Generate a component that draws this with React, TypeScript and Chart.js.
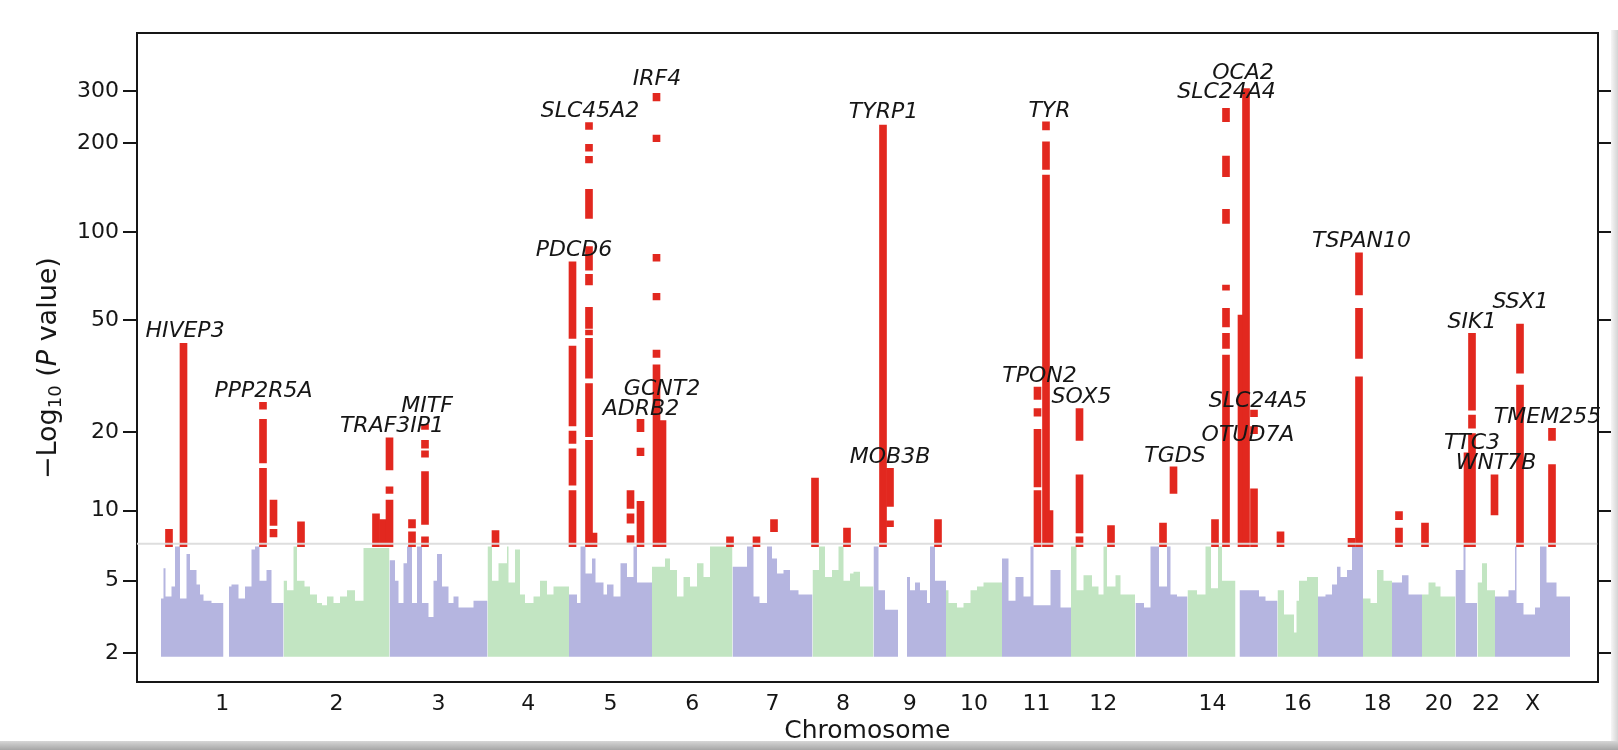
import React, { useEffect, useRef } from "react";
import { Chart, registerables } from "chart.js";

Chart.register(...registerables);

// ---------------- DATA ----------------
const chromNames = ["1","2","3","4","5","6","7","8","9","10","11","12","13","14","15","16","17","18","19","20","21","22","X"];
// relative span of each chromosome along the genome axis (approx. Mb)
const chromSpans = [245,212,196,163,166,161,160,122,145,112,138,129,104,100,80,81,90,58,60,67,43,36,150];
const chromLabelsShown = ["1","2","3","4","5","6","7","8","9","10","11","12","14","16","18","20","22","X"];
const yTickValues = [2,5,10,20,50,100,200,300];
const SIG_LINE = 7.3;
const Y_BOTTOM_VALUE = 1.22;
const Y_TOP_VALUE = 472;
const BASE_VALUE = 1.9;

// upper envelope of the non-significant SNPs: [position within chromosome, -log10 P]
const sky1 = [[0,3.4],[5,4.1],[9,5.7],[21,4.2],[28,4.7],[38,7.1],[51,4.1],[58,6.6],[71,5.6],[78,4.8],[85,4.3],[101,4.0],[110,3.9],[125,3.9],[125,null],[136,5.0],[141,4.7],[155,4.8],[168,4.1],[181,4.7],[188,6.9],[197,7.1],[211,5.0],[221,5.6],[235,3.9],[245,3.9]];
const sky2 = [[0,4.0],[7,5.0],[20,4.5],[27,7.1],[42,5.0],[53,4.7],[67,4.3],[77,3.9],[87,3.8],[100,4.2],[113,3.9],[127,4.2],[143,4.5],[160,4.0],[172,7.0],[212,7.0]];
const sky3 = [[0,7.0],[11,6.2],[18,5.0],[28,3.9],[35,6.0],[45,7.1],[55,3.9],[65,7.1],[78,3.9],[88,3.3],[95,5.0],[105,6.6],[118,4.7],[128,3.9],[138,4.2],[168,3.7],[181,4.0],[196,4.0]];
const sky4 = [[0,5.0],[9,7.1],[22,5.0],[39,6.0],[42,7.1],[55,4.9],[65,6.9],[75,4.3],[92,3.9],[105,4.2],[119,5.0],[132,4.3],[149,4.7],[163,4.7]];
const sky5 = [[0,7.1],[16,4.3],[23,3.9],[33,7.1],[46,5.4],[53,6.3],[69,4.9],[76,4.3],[89,4.8],[103,4.2],[116,6.0],[129,5.2],[136,7.1],[153,4.9],[166,4.9]];
const sky6 = [[0,7.1],[26,5.8],[36,6.3],[50,5.6],[63,4.2],[76,5.2],[90,4.7],[103,6.0],[116,5.2],[146,7.1],[161,7.1]];
const sky7 = [[0,4.9],[29,5.8],[42,7.1],[54,4.2],[69,3.9],[79,7.1],[89,6.3],[102,5.4],[115,5.6],[132,4.5],[145,4.3],[160,4.3]];
const sky8 = [[0,7.1],[13,5.6],[25,7.1],[39,5.2],[52,5.6],[62,7.1],[75,5.0],[82,5.4],[95,5.5],[112,4.7],[122,4.7]];
const sky9 = [[0,4.5],[10,7.1],[23,4.5],[33,3.6],[49,3.6],[49,null],[67,4.7],[73,5.2],[83,4.5],[93,4.9],[107,4.5],[113,3.9],[123,7.1],[137,5.0],[145,5.0]];
const sky10 = [[0,5.0],[5,4.5],[22,3.9],[35,3.7],[49,3.9],[62,4.5],[75,4.7],[95,4.9],[112,4.9]];
const sky11 = [[0,4.5],[13,6.3],[27,4.0],[43,5.2],[57,4.2],[63,7.1],[97,3.8],[117,5.6],[130,3.7],[138,3.7]];
const sky12 = [[0,6.3],[11,7.1],[25,4.5],[42,5.3],[55,4.7],[65,4.3],[72,7.1],[89,4.7],[99,5.3],[109,4.3],[128,4.3]];
const sky13 = [[0,3.9],[17,3.9],[30,3.7],[47,7.1],[63,4.7],[70,7.1],[83,4.3],[97,4.2],[104,4.2]];
const sky14 = [[0,4.7],[19,4.5],[36,4.3],[47,7.1],[61,4.6],[69,7.1],[83,5.0],[96,5.0]];
const sky15 = [[4,7.1],[43,4.5],[56,4.2],[79,4.0],[80,4.0]];
const sky16 = [[0,6.6],[13,4.5],[33,3.4],[38,2.7],[43,4.0],[59,5.0],[73,5.2],[81,5.2]];
const sky17 = [[0,6.9],[15,4.2],[28,4.3],[38,4.8],[45,5.8],[58,5.2],[68,5.6],[75,7.1],[90,7.1]];
const sky18 = [[0,3.9],[15,4.1],[28,3.9],[41,5.6],[51,5.0],[58,5.0]];
const sky19 = [[0,7.1],[20,4.9],[33,5.3],[50,4.3],[60,4.3]];
const sky20 = [[0,7.1],[13,4.3],[27,4.9],[37,4.7],[50,4.2],[67,4.2]];
const sky21 = [[0,4.7],[16,5.6],[20,7.1],[39,3.9],[43,3.9]];
const sky22 = [[1,3.8],[10,4.9],[20,6.0],[32,4.5],[36,4.5]];
const skyX = [[0,3.9],[27,4.2],[40,4.5],[43,7.1],[57,3.9],[80,3.4],[90,3.7],[103,7.1],[123,4.9],[133,4.2],[150,4.2]];
const skylines = [sky1,sky2,sky3,sky4,sky5,sky6,sky7,sky8,sky9,sky10,sky11,sky12,sky13,sky14,sky15,sky16,sky17,sky18,sky19,sky20,sky21,sky22,skyX];

// genome-wide significant SNP columns: [chromosome, position, low -log10 P, high -log10 P]
const sigColumns: [string, number, number, number][] = [
  ["1",16,7.1,8.4],
  ["1",45,7.1,41.4],
  ["1",204,24.2,25.6],["1",204,15.3,22.2],["1",204,7.1,14.6],
  ["1",225,8.7,11.0],["1",225,7.8,8.4],
  ["2",35,7.1,9.0],
  ["2",185,7.1,9.7],
  ["2",199,7.1,9.2],
  ["2",212,14.4,19.0],["2",212,11.7,12.4],["2",212,7.1,11.0],
  ["3",45,8.5,9.2],["3",45,7.1,8.2],
  ["3",71,20.4,21.3],["3",71,17.4,18.6],["3",71,16.1,17.0],["3",71,8.8,14.2],["3",71,7.1,7.8],
  ["4",16,7.1,8.3],
  ["5",7,43.1,79.3],["5",7,21.0,40.5],["5",7,18.1,20.1],["5",7,12.6,17.3],["5",7,7.1,12.0],
  ["5",40,223,235],["5",40,188.5,198.6],["5",40,172,181],["5",40,111.5,139.9],["5",40,74.3,89.3],["5",40,66,71.8],["5",40,46.7,55.3],["5",40,44.3,46.1],["5",40,31.2,43.1],["5",40,19.2,29.9],["5",40,7.1,18.6],
  ["5",49,7.1,8.1],
  ["5",123,10.2,12.0],["5",123,8.9,9.7],["5",123,7.4,7.9],
  ["5",143,20.0,22.2],["5",143,16.3,17.4],["5",143,7.1,10.9],
  ["6",9,278,295],["6",9,202.6,213.5],["6",9,79.7,84.1],["6",9,58.6,61.8],["6",9,37.0,39.2],["6",9,7.1,34.8],
  ["6",21,7.1,22.0],
  ["6",156,7.1,7.8],
  ["7",48,7.1,7.8],
  ["7",83,8.2,9.2],
  ["8",5,7.1,13.4],
  ["8",69,7.1,8.5],
  ["9",19,7.1,230.6],
  ["9",33,10.4,14.6],["9",33,8.6,9.1],
  ["9",129,7.1,9.2],
  ["11",71,26.2,29.0],["11",71,22.8,24.3],["11",71,12.4,20.4],["11",71,7.1,12.0],
  ["11",88,221.9,236.7],["11",88,163.4,202.6],["11",88,7.1,156.4],
  ["11",95,7.1,10.0],
  ["12",17,18.6,24.3],["12",17,8.1,13.8],["12",17,7.1,7.8],
  ["12",80,7.1,8.7],
  ["13",55,7.1,8.9],
  ["13",76,11.7,14.8],
  ["14",55,7.1,9.2],
  ["14",77,237,262.5],["14",77,154.4,181.3],["14",77,107.2,119.6],["14",77,63.4,66],["14",77,47.3,54.8],["14",77,39.8,44.9],["14",77,7.1,37.7],
  ["15",8,7.1,52],
  ["15",17,7.1,306],
  ["15",33,22.7,24.0],["15",33,19.7,20.9],["15",33,7.1,12.2],
  ["16",6,7.1,8.2],
  ["17",67,7.1,7.7],
  ["17",82,61,85.1],["17",82,36.7,54.8],["17",82,7.1,31.6],
  ["19",14,9.2,9.9],["19",14,7.1,8.5],
  ["20",6,7.1,8.9],
  ["21",24,7.1,16.7],
  ["21",33,24.0,44.9],["21",33,20.6,23.0],["21",33,7.1,19.7],
  ["22",35,9.6,13.8],
  ["X",50,32.5,48.4],["X",50,7.1,29.5],
  ["X",114,18.6,20.6],["X",114,7.1,15.1],
];

// gene annotations: [gene, chromosome, position (label centre), -log10 P at text baseline]
const geneLabels: [string, string, number, number][] = [
  ["HIVEP3","1",48,43.7],
  ["PPP2R5A","1",205,26.8],
  ["TRAF3IP1","3",5,19.9],
  ["MITF","3",75,23.7],
  ["PDCD6","5",10,83.0],
  ["SLC45A2","5",42,246],
  ["ADRB2","5",144,23.0],
  ["IRF4","6",10,314],
  ["GCNT2","6",20,27.2],
  ["TYRP1","9",20,243],
  ["MOB3B","9",33,15.3],
  ["TPON2","11",75,30.3],
  ["TYR","11",95,246],
  ["SOX5","12",21,25.4],
  ["TGDS","13",79,15.5],
  ["SLC24A4","14",78,284],
  ["OCA2","15",11,329],
  ["SLC24A5","15",41,24.7],
  ["OTUD7A","15",21,18.5],
  ["TSPAN10","17",87,89.3],
  ["SIK1","21",33,46.7],
  ["TTC3","21",33,17.3],
  ["WNT7B","22",38,14.5],
  ["SSX1","X",51,54.8],
  ["TMEM255","X",105,21.6],
];

// ---------------- HELPERS ----------------
const FONT = "'DejaVu Sans', 'Liberation Sans', sans-serif";
const PURPLE = "#b5b5e0";
const GREEN = "#c2e5c2";
const RED = "#e2281f";
const INK = "#161616";

const tr = (v: number) => Math.log10(v + 2);

const chromStart: number[] = [];
{
  let acc = 0;
  chromSpans.forEach((s) => { chromStart.push(acc); acc += s; });
}
const genomeEnd = chromSpans.reduce((a, b) => a + b, 0);
const X_MIN = -48;
const X_MAX = genomeEnd + 55;
const gpos = (chrom: string, pos: number) => chromStart[chromNames.indexOf(chrom)] + pos;
const labelCenters = chromLabelsShown.map((c) => {
  const i = chromNames.indexOf(c);
  return chromStart[i] + chromSpans[i] / 2;
});

const yTitlePlugin = {
  id: "yTitle",
  afterDraw(chart: any) {
    const ctx = chart.ctx as CanvasRenderingContext2D;
    const { top, bottom } = chart.chartArea;
    const parts = [
      { t: "\u2212Log", f: `27px ${FONT}`, dy: 0 },
      { t: "10", f: `18px ${FONT}`, dy: 5 },
      { t: " (", f: `27px ${FONT}`, dy: 0 },
      { t: "P", f: `italic 27px ${FONT}`, dy: 0 },
      { t: " value)", f: `27px ${FONT}`, dy: 0 },
    ];
    ctx.save();
    let total = 0;
    const widths = parts.map((p) => { ctx.font = p.f; const w = ctx.measureText(p.t).width; total += w; return w; });
    ctx.translate(56, (top + bottom) / 2 + 11);
    ctx.rotate(-Math.PI / 2);
    ctx.fillStyle = INK;
    ctx.textBaseline = "alphabetic";
    ctx.textAlign = "left";
    let x = -total / 2;
    parts.forEach((p, i) => { ctx.font = p.f; ctx.fillText(p.t, x, p.dy); x += widths[i]; });
    ctx.restore();
  },
};

const geneLabelPlugin = {
  id: "geneLabels",
  afterDatasetsDraw(chart: any) {
    const ctx = chart.ctx as CanvasRenderingContext2D;
    const xs = chart.scales.x;
    const ys = chart.scales.y;
    ctx.save();
    ctx.font = `italic 22px ${FONT}`;
    ctx.fillStyle = INK;
    ctx.textAlign = "center";
    ctx.textBaseline = "alphabetic";
    geneLabels.forEach(([name, chrom, pos, val]) => {
      ctx.fillText(name, xs.getPixelForValue(gpos(chrom, pos)), ys.getPixelForValue(tr(val)));
    });
    ctx.restore();
  },
};

export default function App() {
  const ref = useRef<HTMLCanvasElement>(null);

  useEffect(() => {
    document.body.style.margin = "0";
    const datasets: any[] = [];

    datasets.push({
      type: "line",
      data: [{ x: X_MIN, y: tr(SIG_LINE) }, { x: X_MAX, y: tr(SIG_LINE) }],
      borderColor: "rgba(220,220,220,0.95)",
      borderWidth: 2,
      pointRadius: 0,
      fill: false,
      order: 0,
    });

    datasets.push({
      type: "bar",
      data: sigColumns.map(([c, p, lo, hi]) => ({ x: gpos(c, p), y: [tr(lo), tr(hi)] })),
      backgroundColor: RED,
      borderWidth: 0,
      barThickness: 7,
      grouped: false,
      order: 1,
    });

    skylines.forEach((sky, i) => {
      datasets.push({
        type: "line",
        data: (sky as (number | null)[][]).map(([p, h]) => ({ x: chromStart[i] + (p as number), y: h == null ? null : tr(h) })),
        stepped: "after",
        fill: { value: tr(BASE_VALUE) },
        backgroundColor: i % 2 === 0 ? PURPLE : GREEN,
        borderColor: "rgba(0,0,0,0)",
        borderWidth: 0,
        pointRadius: 0,
        spanGaps: false,
        order: 2,
      });
    });

    const yCommon = {
      type: "linear",
      min: tr(Y_BOTTOM_VALUE),
      max: tr(Y_TOP_VALUE),
      afterBuildTicks: (s: any) => { s.ticks = yTickValues.map((v) => ({ value: tr(v) })); },
      grid: { drawOnChartArea: false, drawTicks: true, tickLength: 14, color: INK, lineWidth: 2 },
      border: { display: true, color: INK, width: 2 },
    };

    const chart = new Chart(ref.current as HTMLCanvasElement, {
      type: "line",
      data: { datasets },
      options: {
        animation: false,
        responsive: true,
        maintainAspectRatio: false,
        events: [],
        layout: { padding: { top: 32.5, left: 0, right: 0, bottom: 0 } },
        plugins: { legend: { display: false }, tooltip: { enabled: false } },
        scales: {
          x: {
            type: "linear",
            position: "bottom",
            min: X_MIN,
            max: X_MAX,
            offset: false,
            afterBuildTicks: (s: any) => { s.ticks = labelCenters.map((v) => ({ value: v })); },
            afterFit: (s: any) => { s.height = 68.3; },
            grid: { display: false, drawTicks: false },
            border: { display: true, color: INK, width: 2 },
            ticks: {
              autoSkip: false,
              maxRotation: 0,
              padding: 9,
              color: INK,
              font: { family: FONT, size: 22 },
              callback: (_v: any, i: number) => chromLabelsShown[i],
            },
            title: {
              display: true,
              text: "Chromosome",
              color: INK,
              font: { family: FONT, size: 25 },
              padding: { top: 0, bottom: 4 },
            },
          },
          xTop: {
            type: "linear",
            position: "top",
            min: X_MIN,
            max: X_MAX,
            afterFit: (s: any) => { s.height = 0; },
            grid: { display: false, drawTicks: false },
            border: { display: true, color: INK, width: 2 },
            ticks: { display: false },
          },
          y: {
            ...yCommon,
            position: "left",
            afterFit: (s: any) => { s.width = 137; },
            ticks: {
              padding: 4,
              color: INK,
              font: { family: FONT, size: 22 },
              callback: (_v: any, i: number) => String(yTickValues[i]),
            },
          },
          yRight: {
            ...yCommon,
            position: "right",
            afterFit: (s: any) => { s.width = 20.5; },
            ticks: { display: false },
          },
        } as any,
      },
      plugins: [yTitlePlugin, geneLabelPlugin],
    } as any);

    return () => chart.destroy();
  }, []);

  return (
    <div style={{ position: "relative", width: 1618, height: 750, background: "#ffffff", overflow: "hidden" }}>
      <canvas ref={ref} />
      <div style={{ position: "absolute", left: 1611, top: 30, width: 7, height: 712, background: "linear-gradient(to right, #f6f6f6, #d4d4d4)" }} />
      <div style={{ position: "absolute", left: 0, top: 741, width: 1618, height: 9, background: "linear-gradient(#d6d6d6, #a6a6a6)" }} />
    </div>
  );
}
